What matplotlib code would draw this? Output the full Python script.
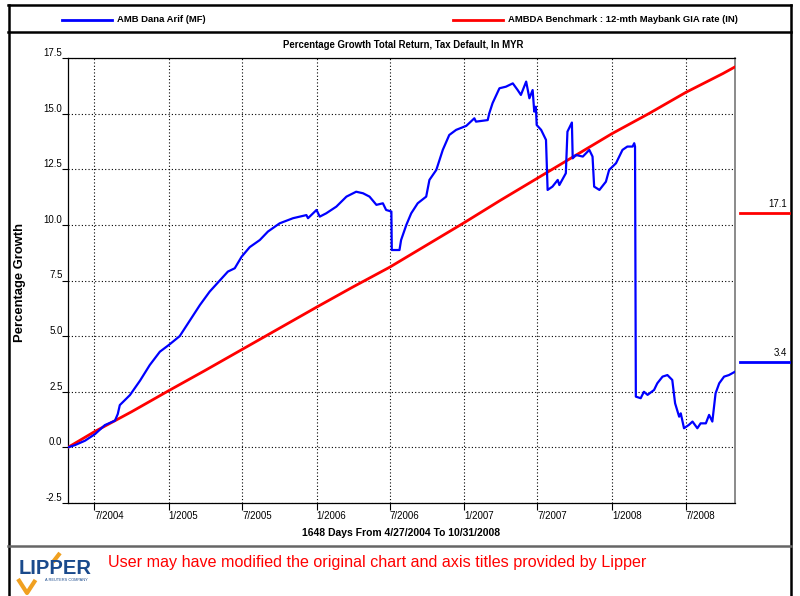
import datetime as dt
import matplotlib
matplotlib.use("Agg")
import matplotlib.pyplot as plt
import matplotlib.transforms as mtransforms
from matplotlib.lines import Line2D

plt.rcParams['font.family'] = ['Liberation Sans', 'DejaVu Sans']

# Data (days since start date, percentage growth)
start_date = dt.date(2004, 4, 27)
end_date = dt.date(2008, 10, 31)

fund_name = "AMB Dana Arif (MF)"
fund_days = [0, 17, 42, 67, 91, 116, 123, 128, 153, 178, 202, 227, 249, 276, 301,
             326, 350, 375, 395, 412, 429, 449, 474, 494, 523, 556, 589, 593, 614,
             622, 638, 663, 688, 712, 729, 745, 762, 778, 786, 799, 800, 819, 823,
             836, 848, 864, 885, 893, 910, 926, 942, 959, 984, 1004, 1008, 1037,
             1041, 1049, 1066, 1082, 1099, 1111, 1119, 1132, 1140, 1148, 1152, 1156,
             1158, 1169, 1181, 1185, 1197, 1210, 1214, 1230, 1234, 1245, 1247, 1255,
             1272, 1288, 1296, 1300, 1313, 1329, 1337, 1354, 1370, 1382, 1395, 1399,
             1401, 1403, 1415, 1423, 1432, 1448, 1456, 1469, 1481, 1493, 1500, 1510,
             1514, 1522, 1534, 1543, 1555, 1563, 1576, 1584, 1592, 1600, 1609, 1621,
             1633, 1648]
fund_values = [0.0, 0.1, 0.3, 0.6, 1.0, 1.2, 1.5, 1.9, 2.35, 3.0, 3.7, 4.3, 4.6, 5.0,
               5.7, 6.4, 7.0, 7.5, 7.9, 8.05, 8.57, 9.0, 9.32, 9.7, 10.07, 10.3,
               10.44, 10.3, 10.67, 10.37, 10.52, 10.82, 11.27, 11.49, 11.42, 11.27,
               10.9, 10.97, 10.67, 10.6, 8.87, 8.87, 9.32, 10.0, 10.52, 10.97, 11.27,
               12.02, 12.47, 13.37, 14.04, 14.27, 14.45, 14.79, 14.64, 14.71, 15.02,
               15.47, 16.14, 16.21, 16.36, 16.06, 15.84, 16.44, 15.69, 16.06, 15.09,
               15.31, 14.49, 14.27, 13.82, 11.57, 11.72, 12.02, 11.79, 12.32, 14.19,
               14.6, 12.99, 13.14, 13.07, 13.37, 13.07, 11.72, 11.57, 11.94, 12.47,
               12.77, 13.37, 13.52, 13.52, 13.67, 13.52, 2.28, 2.21, 2.5, 2.36, 2.58,
               2.88, 3.18, 3.25, 3.03, 1.98, 1.38, 1.53, 0.86, 1.01, 1.16, 0.86, 1.08,
               1.08, 1.46, 1.16, 2.43, 2.88, 3.18, 3.25, 3.4]

bench_name = "AMBDA Benchmark : 12-mth Maybank GIA rate (IN)"
bench_days = [0, 65, 157, 249, 338, 430, 522, 614, 703, 795, 887, 979, 1068, 1160,
              1252, 1344, 1435, 1526, 1618, 1648]
bench_values = [0.0, 0.7, 1.6, 2.55, 3.45, 4.4, 5.35, 6.3, 7.2, 8.1, 9.1, 10.1, 11.1,
                12.1, 13.1, 14.1, 15.0, 15.95, 16.8, 17.1]

tick_dates = [dt.date(2004, 7, 1), dt.date(2005, 1, 1), dt.date(2005, 7, 1),
              dt.date(2006, 1, 1), dt.date(2006, 7, 1), dt.date(2007, 1, 1),
              dt.date(2007, 7, 1), dt.date(2008, 1, 1), dt.date(2008, 7, 1)]
tick_labels = ["7/2004", "1/2005", "7/2005", "1/2006", "7/2006", "1/2007",
               "7/2007", "1/2008", "7/2008"]
y_ticks = [-2.5, 0.0, 2.5, 5.0, 7.5, 10.0, 12.5, 15.0, 17.5]

W, H = 800, 596
fig = plt.figure(figsize=(8, 5.96), dpi=100)


def fx(x):
    return x / W


def fy(y):
    return 1 - y / H


def fline(xs, ys, **kw):
    fig.add_artist(Line2D([fx(x) for x in xs], [fy(y) for y in ys],
                          transform=fig.transFigure, **kw))


ax = fig.add_axes([fx(68), fy(503), fx(735) - fx(68), fy(58) - fy(503)])

fund_x = [start_date + dt.timedelta(days=d) for d in fund_days]
bench_x = [start_date + dt.timedelta(days=d) for d in bench_days]

ax.plot(bench_x, bench_values, color="#ff0000", lw=2.0, zorder=3)
ax.plot(fund_x, fund_values, color="#0000ff", lw=1.6, zorder=4)

ax.set_xlim(start_date, end_date)
ax.set_ylim(-2.5, 17.5)
ax.set_xticks(tick_dates)
ax.set_xticklabels(tick_labels, ha="left", fontsize=7)
shift = mtransforms.ScaledTranslation(4 / 100, 0, fig.dpi_scale_trans)
for lab in ax.get_xticklabels():
    lab.set_transform(lab.get_transform() + shift)
ax.set_yticks(y_ticks)
ax.set_yticklabels([f"{v:.1f}" for v in y_ticks], va="bottom", fontsize=7)
ax.tick_params(axis="x", direction="out", length=5, width=0.8, pad=1)
ax.tick_params(axis="y", direction="out", length=4, width=0.8, pad=0)
ax.grid(True, color="black", linestyle=(0, (1, 2)), linewidth=0.8)
ax.set_axisbelow(True)
for s in ("left", "bottom", "top"):
    ax.spines[s].set_color("black")
    ax.spines[s].set_linewidth(0.9)
ax.spines["right"].set_color("#777777")
ax.spines["right"].set_linewidth(1.2)

# Titles
fig.text(fx(403), fy(45), "Percentage Growth Total Return, Tax Default, In MYR",
         ha="center", va="center", fontsize=6.9, fontweight="bold")
fig.text(fx(401), fy(533), "1648 Days From 4/27/2004 To 10/31/2008",
         ha="center", va="center", fontsize=7.5, fontweight="bold")
fig.text(fx(20), fy(282), "Percentage Growth", rotation=90,
         ha="center", va="center", fontsize=9.4, fontweight="bold")

# Legend row
fline([62, 112], [20, 20], color="#0000ff", lw=2)
fig.text(fx(117), fy(20), fund_name, ha="left", va="center", fontsize=6.8, fontweight="bold")
fline([453, 503], [20, 20], color="#ff0000", lw=2)
fig.text(fx(508), fy(20), bench_name, ha="left", va="center", fontsize=6.8, fontweight="bold")

# Frame lines
fline([8, 791], [32, 32], color="black", lw=1.8)
fline([8, 791], [5, 5], color="black", lw=1.8)
fline([8.5, 8.5], [5, 596], color="black", lw=1.8)
fline([790.5, 790.5], [5, 596], color="black", lw=1.8)
fline([8, 791], [546, 546], color="#666666", lw=1.8)

# End values
fline([740, 789], [213, 213], color="#ff0000", lw=2)
fig.text(fx(787), fy(209), f"{bench_values[-1]:.1f}", ha="right", va="bottom", fontsize=7)
fline([740, 789], [362, 362], color="#0000ff", lw=2)
fig.text(fx(787), fy(358), f"{fund_values[-1]:.1f}", ha="right", va="bottom", fontsize=7)

# Footer logo and note
fline([18, 27, 35.5], [579, 593, 580], color="#f0a020", lw=3, solid_capstyle="butt")
fline([53, 60], [562, 553], color="#f0a020", lw=3, solid_capstyle="butt")
fig.text(fx(55), fy(568), "LIPPER", ha="center", va="center", fontsize=14.5,
         color="#1a4a8c", fontweight="bold")
fig.text(fx(66), fy(580), "A REUTERS COMPANY", ha="center", va="center", fontsize=2.8,
         color="#1a4a8c")
fig.text(fx(108), fy(563), "User may have modified the original chart and axis titles provided by Lipper",
         ha="left", va="center", fontsize=11.6, color="#ff0000")

fig.savefig("out.png", dpi=100)
